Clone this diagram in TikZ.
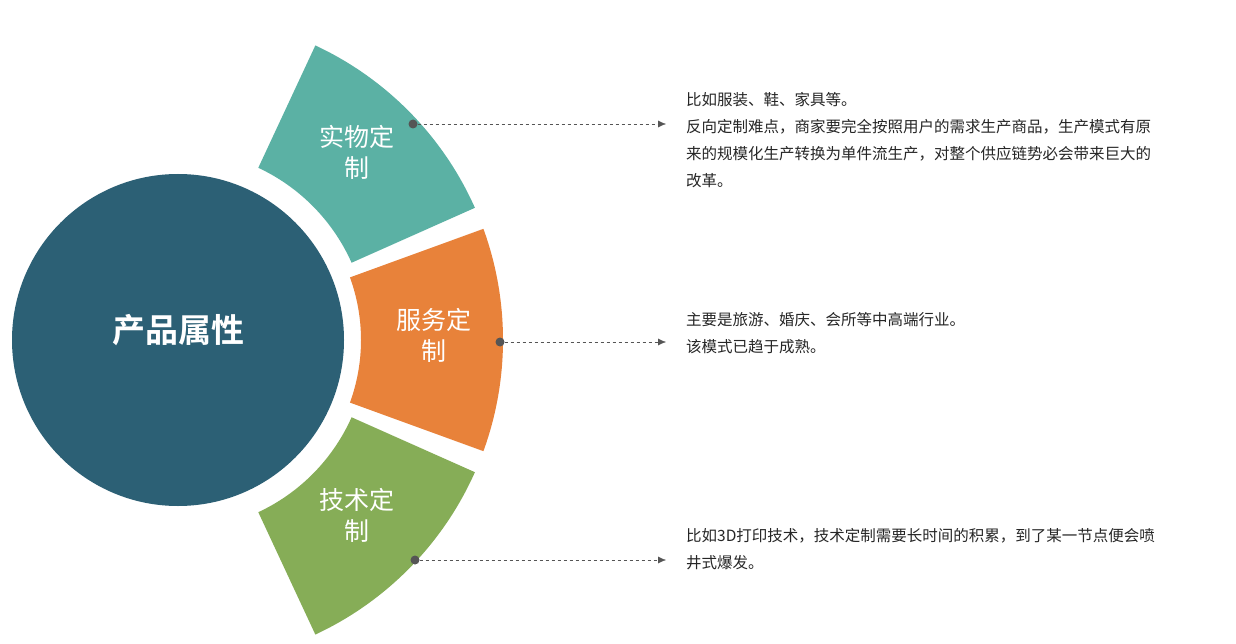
\documentclass[tikz,border=0pt]{standalone}
\usepackage{fontspec}
\setmainfont{Noto Sans CJK SC}
\newfontfamily\cjkb{Noto Sans CJK SC Bold}
\usetikzlibrary{arrows.meta,calc}
\definecolor{cteal}{HTML}{5BB1A4}
\definecolor{corange}{HTML}{E8823A}
\definecolor{cgreen}{HTML}{86AD57}
\definecolor{cdark}{HTML}{2C6075}
\definecolor{cgray}{HTML}{555555}
\tikzset{
  lbl/.style={text=white,font=\fontsize{25}{31}\selectfont,align=center},
  desc/.style={text=black!85,font=\fontsize{15.5}{27}\selectfont,align=left,anchor=north west,inner sep=0},
  dot/.style={circle,fill=cgray,inner sep=0,minimum size=9pt},
  conn/.style={dashed,cgray,-{Latex[length=8pt,width=7pt]}},
}
\begin{document}
\begin{tikzpicture}[x=1pt,y=-1pt]
\useasboundingbox (0,0) rectangle (1236,644);
\fill[white] (0,0) rectangle (1236,644);
\coordinate (c) at (178,340);
\fill[cdark] (c) circle[radius=166];
\node[text=white,font=\cjkb\fontsize{33}{33}\selectfont] (core) at (178,330) {产品属性};
\fill[cteal] ($(c)+(-65:190)$) arc[start angle=-65,end angle=-24,radius=190] -- ($(c)+(-24:325)$) arc[start angle=-24,end angle=-65,radius=325] -- cycle;
\fill[corange] ($(c)+(-20:183)$) arc[start angle=-20,end angle=20,radius=183] -- ($(c)+(20:325)$) arc[start angle=20,end angle=-20,radius=325] -- cycle;
\fill[cgreen] ($(c)+(24:190)$) arc[start angle=24,end angle=65,radius=190] -- ($(c)+(65:325)$) arc[start angle=65,end angle=24,radius=325] -- cycle;
\node[lbl] (l1) at (357,152) {实物定\\制};
\node[lbl] (l2) at (434,335) {服务定\\制};
\node[lbl] (l3) at (357,515) {技术定\\制};
\node[dot] (d1) at (413,124) {};
\node[dot] (d2) at (500,342) {};
\node[dot] (d3) at (415,560) {};
\coordinate (a1) at (666,124);
\coordinate (a2) at (666,342);
\coordinate (a3) at (666,560);
\draw[conn] (d1) -- (a1);
\draw[conn] (d2) -- (a2);
\draw[conn] (d3) -- (a3);
\node[desc] (t1) at (686,92) {比如服装、鞋、家具等。\\反向定制难点，商家要完全按照用户的需求生产商品，生产模式有原\\来的规模化生产转换为单件流生产，对整个供应链势必会带来巨大的\\改革。};
\node[desc] (t2) at (686,312) {主要是旅游、婚庆、会所等中高端行业。\\该模式已趋于成熟。};
\node[desc] (t3) at (686,528) {比如3D打印技术，技术定制需要长时间的积累，到了某一节点便会喷\\井式爆发。};
\end{tikzpicture}
\end{document}
